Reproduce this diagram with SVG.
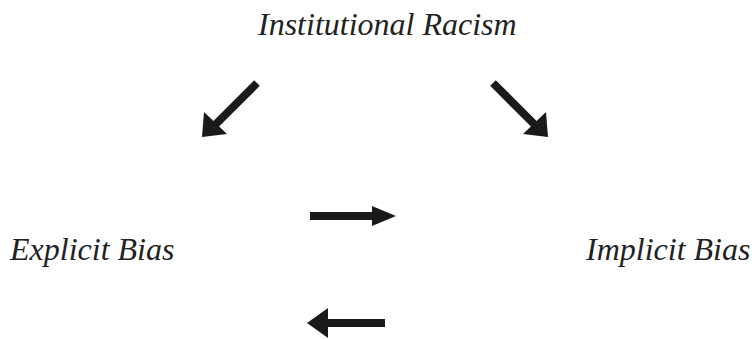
<svg xmlns="http://www.w3.org/2000/svg" width="752" height="339" viewBox="0 0 752 339">
<style>
.lbl{font-family:"Liberation Serif","Times New Roman",serif;font-style:italic;font-size:32px;fill:#222}
.shaft{stroke:#1a1a1a;stroke-width:8;fill:none}
.head{fill:#1a1a1a}
</style>
<rect width="752" height="339" fill="#fff"/>
<g id="node-institutional"><text class="lbl" x="258" y="35">Institutional Racism</text></g>
<g id="node-explicit"><text class="lbl" x="10" y="260">Explicit Bias</text></g>
<g id="node-implicit"><text class="lbl" x="586" y="260">Implicit Bias</text></g>
<g id="connectors">
<line class="shaft" x1="257" y1="83" x2="214" y2="126"/>
<polygon class="head" points="202,137 204,112 227,134"/>
<line class="shaft" x1="493" y1="83" x2="536" y2="126"/>
<polygon class="head" points="548,137 546,112 523,134"/>
<line class="shaft" x1="310" y1="216" x2="376" y2="216"/>
<polygon class="head" points="372,206 396,216 372,226"/>
<line class="shaft" x1="385" y1="323" x2="322" y2="323"/>
<polygon class="head" points="307,323 328,308 328,338"/>
</g>
</svg>
